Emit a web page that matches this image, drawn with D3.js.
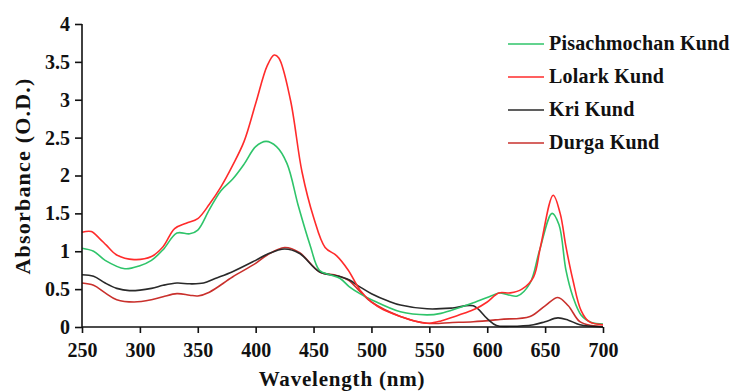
<!DOCTYPE html>
<html><head><meta charset="utf-8">
<script src="https://cdn.jsdelivr.net/npm/d3@7"></script>
<style>body{margin:0;background:#fff}svg text{font-family:"Liberation Serif","Times New Roman",serif;font-weight:bold;fill:#111}</style>
</head><body><svg id="c" width="734" height="392"></svg>
<script>
const xTicks = [250,300,350,400,450,500,550,600,650,700];
const yTicks = [0,0.5,1,1.5,2,2.5,3,3.5,4];
const yTickLabels = ["0","0.5","1","1.5","2","2.5","3","3.5","4"];
const seriesNames = ["Pisachmochan Kund","Lolark Kund","Kri Kund","Durga Kund"];
const seriesColors = ["#2fc46a","#ff2b2b","#2a2a2a","#c9302c"];

const pisachWl = [250,260,270,287,300,310,320,332,343,350,360,370,380,390,400,409,418,427,437,447,455,464,473,481,490,500,525,548,560,575,588,605,611,626,637,645,656,662,668,674,681,690,700];
const pisachAbs = [1.04,1.0,0.88,0.77,0.81,0.88,1.02,1.24,1.23,1.28,1.55,1.80,1.95,2.15,2.38,2.45,2.38,2.16,1.59,1.08,0.75,0.69,0.64,0.53,0.44,0.36,0.20,0.16,0.18,0.25,0.32,0.42,0.45,0.41,0.58,1.0,1.50,1.35,0.75,0.40,0.16,0.06,0.04];

const lolarkWl = [250,258,265,271,280,295,310,320,330,340,350,360,370,380,390,400,410,416,420,430,440,450,460,470,480,490,500,510,525,540,550,560,570,580,590,600,610,620,630,640,646,657,663,668,674,681,688,700];
const lolarkAbs = [1.25,1.26,1.17,1.08,0.95,0.89,0.93,1.06,1.30,1.37,1.43,1.62,1.85,2.13,2.45,2.95,3.45,3.59,3.55,3.0,2.05,1.45,1.05,0.94,0.75,0.49,0.33,0.23,0.14,0.07,0.05,0.08,0.13,0.18,0.24,0.33,0.45,0.45,0.50,0.66,1.06,1.74,1.50,1.06,0.62,0.22,0.07,0.03];

const kriWl = [250,260,270,280,291,310,320,332,343,355,365,380,400,410,425,438,455,472,481,490,500,515,525,548,570,588,600,608,620,640,650,661,670,680,700];
const kriAbs = [0.69,0.67,0.58,0.51,0.48,0.51,0.55,0.58,0.57,0.58,0.64,0.73,0.88,0.96,1.03,0.97,0.73,0.67,0.62,0.53,0.44,0.34,0.29,0.24,0.25,0.28,0.11,0.02,0.01,0.03,0.07,0.12,0.09,0.03,0.0];

const durgaWl = [250,260,270,280,295,310,320,332,343,350,360,380,400,410,425,438,455,470,480,490,500,525,548,570,588,611,637,650,661,670,680,690,700];
const durgaAbs = [0.58,0.55,0.45,0.36,0.33,0.36,0.40,0.44,0.42,0.41,0.46,0.66,0.84,0.95,1.05,0.98,0.73,0.68,0.62,0.47,0.33,0.14,0.05,0.06,0.07,0.10,0.14,0.28,0.39,0.28,0.07,0.02,0.01];

const series = [
  {wl:pisachWl, v:pisachAbs},
  {wl:lolarkWl, v:lolarkAbs},
  {wl:kriWl, v:kriAbs},
  {wl:durgaWl, v:durgaAbs}
];

const svg = d3.select("#c");
const x = d3.scaleLinear().domain([250,700]).range([82,603]);
const y = d3.scaleLinear().domain([0,4]).range([327,24]);

const line = d3.line().x(d=>x(d[0])).y(d=>Math.min(y(d[1]), 327.5)).curve(d3.curveCatmullRom.alpha(0.5));
[3,2,0,1].forEach(i=>{
  const s = series[i];
  svg.append("path").attr("d", line(s.wl.map((w,j)=>[w,s.v[j]])))
    .attr("fill","none").attr("stroke",seriesColors[i]).attr("stroke-width",1.6);
});

const xa = svg.append("g").attr("transform","translate(0,327)")
  .call(d3.axisBottom(x).tickValues(xTicks).tickSize(6).tickPadding(6).tickFormat(d3.format("d")));
const ya = svg.append("g").attr("transform","translate(82,0)")
  .call(d3.axisLeft(y).tickValues(yTicks).tickSize(7).tickPadding(5).tickFormat((d,i)=>yTickLabels[i]));
[xa,ya].forEach(a=>{
  a.selectAll("path,line").attr("stroke","#111").attr("stroke-width",1.6);
  a.select(".domain").attr("d", a===xa ? "M82,0H603" : "M0,327V24");
  a.selectAll("text").style("font-size","20px").style("font-family","Liberation Serif").style("font-weight","bold").attr("fill","#111");
});
xa.selectAll("text").attr("dy","0.9em");

svg.append("text").attr("x",342).attr("y",386).attr("text-anchor","middle")
  .style("font-size","21px").style("letter-spacing","0.8px").text("Wavelength (nm)");
svg.append("text").attr("transform","translate(30,176) rotate(-90)").attr("text-anchor","middle")
  .style("font-size","22px").style("letter-spacing","1.2px").text("Absorbance  (O.D.)");

const leg = svg.append("g");
seriesNames.forEach((n,i)=>{
  const yy = 44 + i*33;
  leg.append("line").attr("x1",508).attr("x2",544).attr("y1",yy).attr("y2",yy)
    .attr("stroke",seriesColors[i]).attr("stroke-width",1.6);
  leg.append("text").attr("x",549).attr("y",yy+6).style("font-size","20px").style("letter-spacing","0.2px").text(n);
});
</script></body></html>
